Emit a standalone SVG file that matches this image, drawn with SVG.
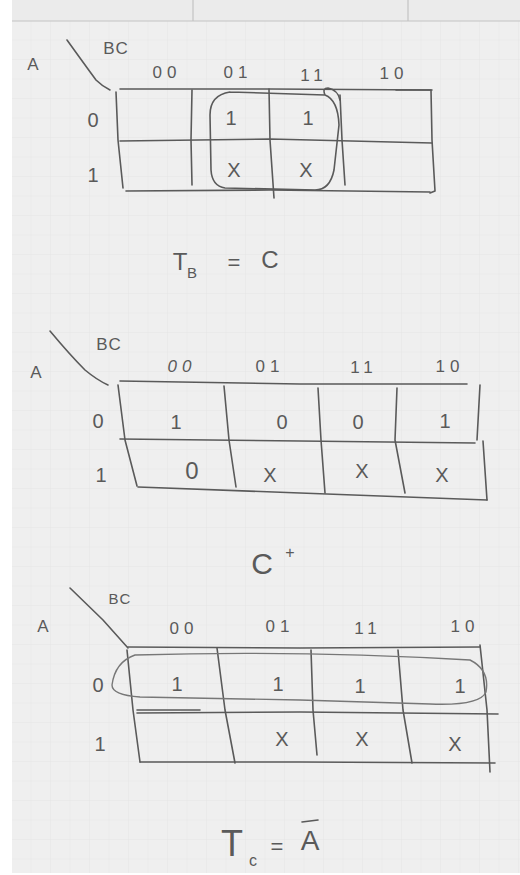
<svg xmlns="http://www.w3.org/2000/svg" width="520" height="875" viewBox="0 0 520 875">
<defs>
<pattern id="grid" x="12" y="21" width="19.5" height="19.5" patternUnits="userSpaceOnUse">
<rect width="19.5" height="19.5" fill="#efefef"/>
<path d="M19.5 0V19.5M0 19.5H19.5" stroke="#e1e1e1" stroke-width="0.8" fill="none"/>
</pattern>
</defs>
<style>
.p{fill:none;stroke:#5a5a5a;stroke-width:1.6;stroke-linecap:round;stroke-linejoin:round}
.pl{fill:none;stroke:#777;stroke-width:1.4;stroke-linecap:round}
.t{font-family:"Liberation Sans",Arial,sans-serif;fill:#5a5a5a;text-anchor:middle}
.lab{font-size:17px;letter-spacing:5px}
.v{font-size:20px}
</style>
<rect width="520" height="875" fill="#ffffff"/>
<rect x="12" y="0" width="508" height="21" fill="#ebebeb"/>
<rect x="12" y="21" width="508" height="852" fill="url(#grid)"/>
<path d="M12 21H520M193 0V21M408 0V21" stroke="#c4c4c4" stroke-width="1.2" fill="none"/>

<g id="map1">
<text class="t" x="33" y="70" font-size="17">A</text>
<path class="p" d="M67 40 Q85 65 96 80 Q102 86 110 90"/>
<text class="t" x="116" y="54" font-size="17" letter-spacing="1">BC</text>
<text class="t lab" x="167" y="78">00</text>
<text class="t lab" x="238" y="78">01</text>
<text class="t lab" x="314" y="81">11</text>
<text class="t lab" x="394" y="79">10</text>
<path class="p" d="M120 89 L270 89 L432 90"/>
<path class="p" d="M120 141 L270 139 L432 143"/>
<path class="p" d="M126 191 L270 190 L430 192"/>
<path class="p" d="M116 92 L118 140 L123 188"/>
<path class="p" d="M192 90 L191 140 L192 185"/>
<path class="p" d="M269 89 L270 140 L274 198"/>
<path class="p" d="M340 95 L342 140 L345 185"/>
<path class="p" d="M396 90 L431 90 L432 140 L435 191 L430 193"/>
<text class="t v" x="93" y="127">0</text>
<text class="t v" x="93" y="182">1</text>
<text class="t v" x="231" y="125">1</text>
<text class="t v" x="308" y="125">1</text>
<text class="t v" x="234" y="177">X</text>
<text class="t v" x="306" y="177">X</text>
<path class="p" d="M230 92 L325 95 Q338 100 339 125 L334 170 Q330 190 315 190 L225 188 Q212 186 211 170 L210 115 Q210 95 230 92 M325 95 Q322 88 328 88 Q338 90 340 100"/>
<text class="t" x="180" y="270" font-size="24">T</text>
<text class="t" x="192" y="278" font-size="15">B</text>
<text class="t" x="234" y="270" font-size="22">=</text>
<text class="t" x="270" y="268" font-size="24">C</text>
</g>

<g id="map2">
<text class="t" x="36" y="378" font-size="17">A</text>
<path class="p" d="M50 331 Q70 355 85 370 Q97 380 108 385"/>
<text class="t" x="109" y="350" font-size="17" letter-spacing="1">BC</text>
<text class="t lab" x="182" y="372" font-style="italic">00</text>
<text class="t lab" x="270" y="372">01</text>
<text class="t lab" x="364" y="373">11</text>
<text class="t lab" x="450" y="372">10</text>
<path class="p" d="M120 381 L300 384 L467 384"/>
<path class="p" d="M120 439 L300 441 L475 443"/>
<path class="p" d="M138 487 L300 493 L487 500"/>
<path class="p" d="M118 385 L125 440 L137 486"/>
<path class="p" d="M224 386 L229 440 L236 487"/>
<path class="p" d="M318 388 L321 440 L325 493"/>
<path class="p" d="M397 388 L395 440 L405 493"/>
<path class="p" d="M480 385 L477 440 M483 441 L487 500"/>
<text class="t v" x="98" y="428">0</text>
<text class="t v" x="101" y="482">1</text>
<text class="t v" x="176" y="429">1</text>
<text class="t v" x="282" y="429">0</text>
<text class="t v" x="358" y="429">0</text>
<text class="t v" x="445" y="428">1</text>
<text class="t" x="192" y="479" font-size="24">0</text>
<text class="t v" x="270" y="482">X</text>
<text class="t v" x="362" y="478">X</text>
<text class="t v" x="442" y="482">X</text>
<text class="t" x="262" y="574" font-size="30">C</text>
<text class="t" x="290" y="558" font-size="16">+</text>
</g>

<g id="map3">
<text class="t" x="43" y="632" font-size="17">A</text>
<path class="p" d="M70 588 L103 620 L128 648"/>
<text class="t" x="120" y="604" font-size="15" letter-spacing="1">BC</text>
<text class="t lab" x="184" y="634">00</text>
<text class="t lab" x="280" y="632">01</text>
<text class="t lab" x="368" y="634">11</text>
<text class="t lab" x="465" y="632">10</text>
<path class="p" d="M128 647 L300 648 L480 647"/>
<path class="p" d="M137 710 L200 710 M137 713 L300 712 L498 714"/>
<path class="p" d="M140 762 L300 762 L495 763"/>
<path class="p" d="M127 650 L133 710 L140 762"/>
<path class="p" d="M217 648 L225 710 L235 763"/>
<path class="p" d="M311 650 L313 710 L317 755"/>
<path class="p" d="M398 650 L403 710 L412 763"/>
<path class="p" d="M480 645 L487 710 L490 772"/>
<path class="pl" d="M135 655 Q300 650 470 660 Q490 670 486 692 Q480 706 430 704 L300 700 L140 697 Q112 695 112 685 Q115 662 135 655"/>
<text class="t v" x="98" y="692">0</text>
<text class="t v" x="100" y="751">1</text>
<text class="t v" x="177" y="691">1</text>
<text class="t v" x="278" y="691">1</text>
<text class="t v" x="360" y="693">1</text>
<text class="t v" x="460" y="693">1</text>
<text class="t v" x="282" y="746">X</text>
<text class="t v" x="362" y="746">X</text>
<text class="t v" x="455" y="751">X</text>
<text class="t" x="232" y="856" font-size="36">T</text>
<text class="t" x="253" y="866" font-size="16">c</text>
<text class="t" x="277" y="854" font-size="22">=</text>
<text class="t" x="310" y="850" font-size="28">A</text>
<path class="p" d="M302 822 L318 820"/>
</g>
</svg>
